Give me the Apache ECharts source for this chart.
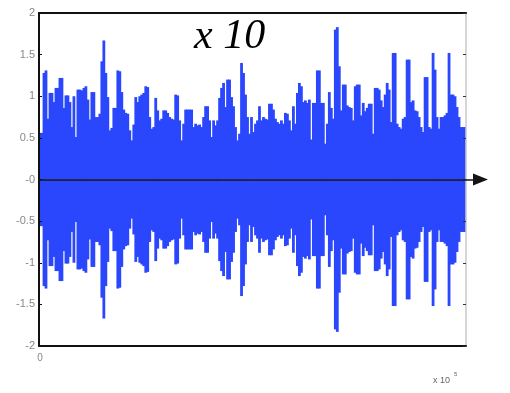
<!DOCTYPE html>
<html>
<head>
<meta charset="utf-8">
<script src="https://cdn.jsdelivr.net/npm/echarts@6/dist/echarts.min.js"></script>
<style>
html,body{margin:0;padding:0;background:#fff;}
#chart{width:510px;height:393px;}
</style>
</head>
<body>
<div id="chart"></div>
<script>
// Envelope (peak amplitude) of the waveform, read left to right from the picture.
const envelope = [
0.56,0.56,1.28,1.31,0.73,1.04,1.04,0.93,1.10,1.10,1.22,1.22,0.86,1.01,1.01,0.93,0.63,1.00,0.51,1.08,
1.08,1.07,1.10,1.12,0.96,0.72,1.05,1.05,0.75,0.75,0.79,1.42,1.67,1.28,0.99,0.59,0.62,0.86,0.86,1.31,
1.30,1.05,0.84,0.80,0.79,0.59,0.47,0.66,0.99,0.93,1.00,1.02,1.04,1.12,1.11,0.75,0.61,0.63,0.98,0.83,
0.71,0.73,0.83,0.83,0.80,0.75,0.73,0.72,1.02,1.01,0.71,0.47,0.67,0.84,0.84,0.84,0.84,0.63,0.67,0.65,
0.66,0.63,0.75,0.88,0.88,0.71,0.51,0.71,0.65,0.71,0.98,1.10,1.16,0.87,1.20,1.20,0.99,0.88,0.63,0.47,
0.55,1.40,1.28,1.02,0.75,0.55,0.75,0.57,0.67,0.71,0.88,0.71,0.75,0.73,0.72,0.91,0.91,0.84,0.73,0.69,
0.67,0.71,0.67,0.80,0.79,0.71,0.59,0.88,0.67,1.04,1.16,1.12,0.93,0.95,0.92,0.96,0.48,0.92,0.92,1.31,
1.31,0.92,0.92,0.43,0.67,1.05,0.86,0.73,1.80,1.83,1.36,0.83,1.14,1.14,0.89,0.87,0.86,0.71,1.12,1.14,
1.14,0.77,0.92,0.82,0.86,0.91,0.91,0.55,1.10,1.10,1.08,0.95,0.87,1.02,1.16,1.08,0.69,1.52,1.52,0.67,
0.63,0.61,0.73,0.75,1.44,1.44,0.93,0.95,0.83,0.82,0.75,0.63,0.57,1.23,1.23,0.63,0.61,1.52,1.32,0.75,
0.61,0.75,0.75,0.77,0.80,1.52,1.02,1.02,1.00,0.87,0.75,0.63,0.63,0.63
];
// The waveform is symmetric: the lower envelope mirrors the upper one.
const upper = envelope;
const lower = envelope.map(v => -v);
const samples = envelope.map((_, i) => String(i));

const yTicks = [-2, -1.5, -1, -0.5, 0, 0.5, 1, 1.5, 2];
const yTickLabels = ['-2', '-1.5', '-1', '-0.5', '-0', '0.5', '1', '1.5', '2'];
const xTickLabels = ['0'];
const titleText = 'x 10';
const xScaleText = 'x 10';
const xScaleExp = '5';

const blue = '#2a47fd';

const chart = echarts.init(document.getElementById('chart'), null, {renderer: 'canvas'});
const waveSeries = (name, data) => ({
  type: 'bar', name, xAxisIndex: 0, yAxisIndex: 0, data,
  barWidth: 2.8, barGap: '-100%', z: 2,
  itemStyle: {color: blue},
  emphasis: {disabled: true}
});
const option = {
  animation: false,
  backgroundColor: '#fff',
  title: {
    text: titleText,
    left: 189, top: 11,
    textStyle: {fontFamily: 'Liberation Serif', fontStyle: 'italic', fontWeight: 'normal', fontSize: 42, color: '#000'}
  },
  graphic: [
    {type: 'text', left: 433, top: 376, z: 10, style: {text: xScaleText, fontSize: 9, fill: '#666', fontFamily: 'Liberation Sans'}},
    {type: 'text', left: 454, top: 371, z: 10, style: {text: xScaleExp, fontSize: 6, fill: '#666', fontFamily: 'Liberation Sans'}}
  ],
  grid: [
    {left: 39, right: 44, top: 13, bottom: 47, containLabel: false},
    {left: 39, right: 37, top: 13, bottom: 47, containLabel: false}
  ],
  xAxis: [
    {
      gridIndex: 0, type: 'category', data: samples, position: 'bottom', boundaryGap: true, z: 5,
      axisLine: {onZero: false, lineStyle: {color: '#111', width: 2}},
      axisTick: {show: false},
      axisLabel: {
        interval: 0, margin: 7, fontSize: 10, color: '#888', fontFamily: 'Liberation Sans',
        formatter: (v, i) => (i < xTickLabels.length ? xTickLabels[i] : '')
      },
      splitLine: {show: false}
    },
    {
      gridIndex: 0, type: 'category', data: samples, position: 'top', z: 5,
      axisLine: {onZero: false, lineStyle: {color: '#111', width: 2}},
      axisTick: {show: false}, axisLabel: {show: false}, splitLine: {show: false}
    },
    {
      gridIndex: 1, type: 'value', min: 0, max: 1, z: 10,
      axisLine: {onZero: true, symbol: ['none', 'triangle'], symbolSize: [12, 15], symbolOffset: [0, 7.5],
        lineStyle: {color: '#141414', width: 1.5}},
      axisTick: {show: false}, axisLabel: {show: false}, splitLine: {show: false}
    }
  ],
  yAxis: [
    {
      gridIndex: 0, type: 'value', min: -2, max: 2, interval: 0.5, position: 'left', z: 5,
      axisLine: {show: true, onZero: false, lineStyle: {color: '#111', width: 2}},
      axisTick: {show: true, inside: true, length: 3, lineStyle: {color: '#111'}},
      axisLabel: {
        margin: 4, fontSize: 11, color: '#888', fontFamily: 'Liberation Sans',
        formatter: v => { const k = yTicks.findIndex(t => Math.abs(t - v) < 1e-9); return k >= 0 ? yTickLabels[k] : ''; }
      },
      splitLine: {show: false}
    },
    {
      gridIndex: 0, type: 'value', min: -2, max: 2, interval: 0.5, position: 'right', z: 5,
      axisLine: {show: true, onZero: false, lineStyle: {color: '#c8c8c8', width: 1.5}},
      axisTick: {show: true, inside: true, length: 3, lineStyle: {color: '#333'}},
      axisLabel: {show: false}, splitLine: {show: false}
    },
    {
      gridIndex: 1, type: 'value', min: -2, max: 2, show: false
    }
  ],
  series: [
    waveSeries('upper', upper),
    waveSeries('lower', lower)
  ]
};
chart.setOption(option);
</script>
</body>
</html>
